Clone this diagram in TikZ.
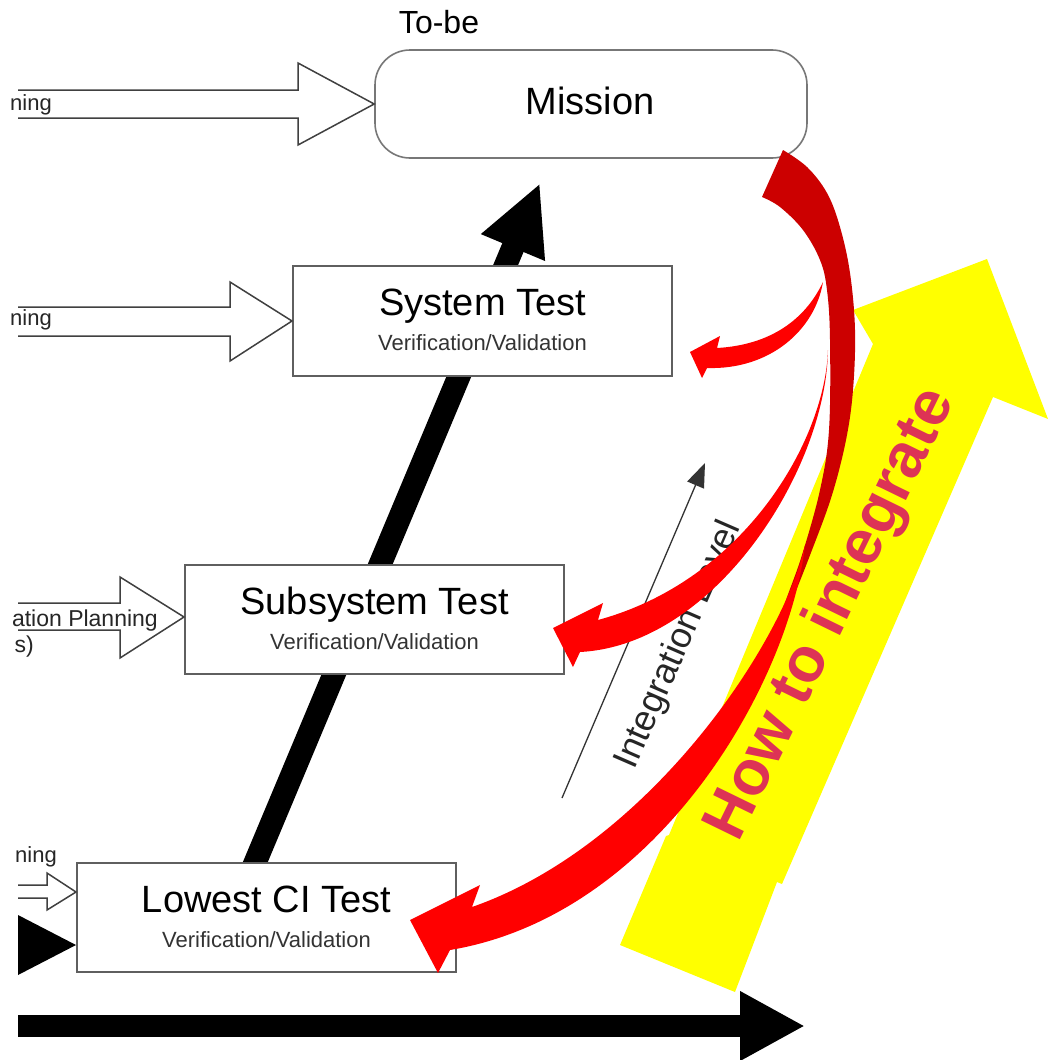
\documentclass[tikz,border=0pt]{standalone}
\usepackage{fontspec}
\setmainfont{Liberation Sans}
\usetikzlibrary{arrows.meta}
\definecolor{darkred}{RGB}{204,0,0}
\definecolor{brightred}{RGB}{255,0,0}
\definecolor{hiyellow}{RGB}{255,255,0}
\definecolor{howpink}{RGB}{221,51,85}
\definecolor{boxgray}{RGB}{95,95,95}
\begin{document}
\begin{tikzpicture}[x=1pt,y=-1pt,
  box/.style={draw=boxgray, line width=2pt, fill=white, minimum width=379pt, minimum height=109pt, inner sep=0pt},
  titletext/.style={font=\fontsize{38}{40}\selectfont, inner sep=0pt, anchor=base},
  subtext/.style={font=\fontsize{22}{24}\selectfont, text=black!80, inner sep=0pt, anchor=base},
  sidelabel/.style={font=\fontsize{22}{24}\selectfont, text=black!85, inner sep=0pt, anchor=base east},
  hollow/.style={draw=black!75, line width=1.5pt, fill=white, line join=miter},
]
\useasboundingbox (0,0) rectangle (1056,1060);
\fill[white] (0,0) rectangle (1056,1060);

% yellow arrow
\fill[hiyellow] (987,259) -- (1048,419) -- (993,397) -- (782,884) -- (777,882) -- (735,992)
  -- (620,945) -- (666,836) -- (669,835) -- (873,344) -- (853,310) -- cycle;

% big black diagonal arrow
\coordinate (diagA) at (252,870);
\coordinate (diagB) at (540,183);
\draw[line width=23pt, -{Triangle[length=70pt,width=64pt]}] (diagA) -- (diagB);

% boxes
\node[box, minimum width=432pt, minimum height=108pt, rounded corners=35pt, draw=boxgray!85, line width=1.6pt] (mission) at (591,104) {};
\node[titletext] (missiontxt) at (590,114) {Mission};
\node[font=\fontsize{32}{34}\selectfont, inner sep=0pt, anchor=base] (tobe) at (439,33) {To-be};

\node[box, minimum height=110pt] (sys) at (482.5,321) {};
\node[titletext] (systitle) at (482.5,315) {System Test};
\node[subtext] (syssub) at (482.5,350) {Verification/Validation};

\node[box] (sub) at (374.5,619.5) {};
\node[titletext] (subtitle) at (374.5,614) {Subsystem Test};
\node[subtext] (subsub) at (374.5,649) {Verification/Validation};

\node[box] (low) at (266.5,917.5) {};
\node[titletext] (lowtitle) at (266.5,912) {Lowest CI Test};
\node[subtext] (lowsub) at (266.5,947) {Verification/Validation};

% hollow arrows
\draw[hollow] (18,90) -- (298,90) -- (298,63) -- (mission.west) -- (298,145) -- (298,118) -- (18,118);
\node[sidelabel] (lab1) at (52,110) {ning};

\draw[hollow] (18,307) -- (230,307) -- (230,282) -- (sys.west) -- (230,361) -- (230,336) -- (18,336);
\node[sidelabel] (lab2) at (52,325) {ning};

\draw[hollow] (18,603) -- (120,603) -- (120,577) -- ([yshift=2.5pt]sub.west) -- (120,658) -- (120,630) -- (18,630);
\node[sidelabel, font=\fontsize{23}{25}\selectfont] (lab3) at (158,626) {ation Planning};
\node[sidelabel, font=\fontsize{23}{25}\selectfont] (lab3b) at (34,652) {s)};

\draw[hollow] (18,885) -- (47,885) -- (47,873) -- ([yshift=25.5pt]low.west) -- (47,910) -- (47,898) -- (18,898);
\node[sidelabel] (lab4) at (57,862) {ning};

% black triangle and bottom arrow
\fill (18,915) -- ([yshift=-27.5pt]low.west) -- (18,975) -- cycle;
\coordinate (botA) at (18,1026);
\coordinate (botB) at (805,1026);
\draw[line width=22pt, -{Triangle[length=65pt,width=65pt]}] (botA) -- (botB);

% integration level
\coordinate (ilA) at (562,798);
\coordinate (ilB) at (705,463);
\draw[line width=1.3pt, black!80, -{Triangle[length=24pt,width=18pt]}] (ilA) -- (ilB);
\node[font=\fontsize{36}{38}\selectfont, text=black!85, rotate=66.5, inner sep=0pt] (iltext) at (679,645) {Integration Level};

% dark red crescent
\fill[darkred] plot[smooth, tension=0.6] coordinates {(783,150) (807,167) (827,193) (840,227) (850,273) (855,330) (853,390) (846,440) (832,495) (812,550) (790,605) (765,660)}
  -- plot[smooth, tension=0.6] coordinates {(765,660) (786,600) (802,555) (820,490) (829,430) (830,340) (827,290) (820,260) (803,230) (780,207) (762,197)} -- cycle;

% system arrow
\fill[brightred] (823,282) .. controls (805,320) and (770,345) .. (717,348)
  -- (720,336) -- (690,352) -- (702,378) -- (707,368)
  .. controls (770,370) and (815,330) .. (823,282) -- cycle;

% subsystem arrow
\fill[brightred] (828,350) .. controls (825,440) and (745,580) .. (598,620)
  -- (603,603) -- (553,628) -- (573,667) -- (580,652)
  .. controls (715,645) and (826,470) .. (828,350) -- cycle;

% lowest CI arrow
\fill[brightred] (805,545) .. controls (785,640) and (650,845) .. (472,907)
  -- (480,885) -- (410,920) -- (438,973) -- (450,950)
  .. controls (660,915) and (790,680) .. (805,545) -- cycle;

% how to integrate
\node[font=\bfseries\fontsize{63}{66}\selectfont, text=howpink, rotate=64, inner sep=0pt] (how) at (832,615) {How to integrate};
\end{tikzpicture}
\end{document}
